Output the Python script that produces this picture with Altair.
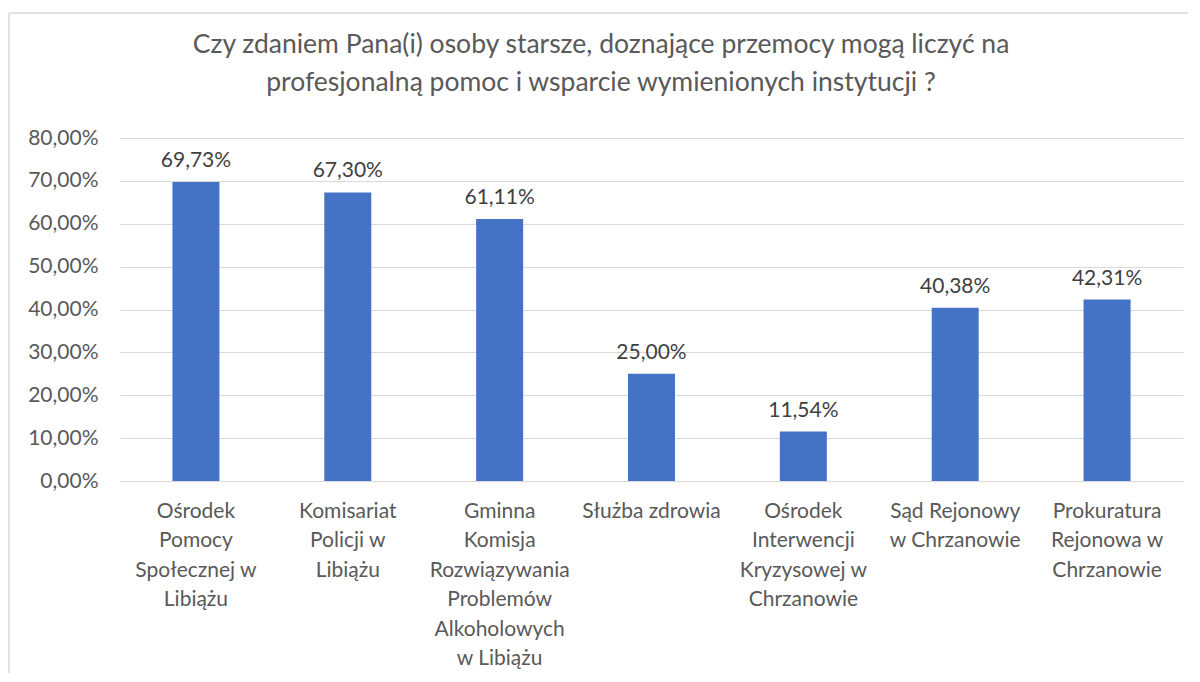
import altair as alt
import pandas as pd

category_lines = [
    ["Ośrodek", "Pomocy", "Społecznej w", "Libiążu"],
    ["Komisariat", "Policji w", "Libiążu"],
    ["Gminna", "Komisja", "Rozwiązywania", "Problemów", "Alkoholowych", "w Libiążu"],
    ["Służba zdrowia"],
    ["Ośrodek", "Interwencji", "Kryzysowej w", "Chrzanowie"],
    ["Sąd Rejonowy", "w Chrzanowie"],
    ["Prokuratura", "Rejonowa w", "Chrzanowie"],
]
values = [69.73, 67.30, 61.11, 25.00, 11.54, 40.38, 42.31]
y_ticks = [0, 10, 20, 30, 40, 50, 60, 70, 80]
title_lines = [
    "Czy zdaniem Pana(i) osoby starsze, doznające przemocy mogą liczyć na",
    "profesjonalną pomoc i wsparcie wymienionych instytucji ?",
]

cats = ["|".join(l) for l in category_lines]
df = pd.DataFrame({
    "cat": cats,
    "val": values,
    "lab": [f"{v:.2f}".replace(".", ",") + "%" for v in values],
})

FONT = "Lato"
GRAY = "#595959"
FS = 21

base = alt.Chart(df)

x = alt.X("cat:N", sort=cats, title=None,
          axis=alt.Axis(labelExpr="split(datum.label, '|')", labelAngle=0,
                        labelFont=FONT, labelFontSize=FS, labelColor=GRAY,
                        labelLineHeight=29.5, labelPadding=19, ticks=False,
                        domain=True, domainColor="#d9d9d9", labelBaseline="top",
                        labelLimit=220))
y = alt.Y("val:Q", title=None,
          scale=alt.Scale(domain=[0, 80], nice=False),
          axis=alt.Axis(values=y_ticks,
                        labelExpr="replace(format(datum.value, '.2f'), '.', ',') + '%'",
                        labelFont=FONT, labelFontSize=FS, labelColor=GRAY,
                        labelPadding=22, ticks=False, domain=False,
                        grid=True, gridColor="#d9d9d9", gridWidth=1))

bars = base.mark_bar(size=47, color="#4472C4").encode(x=x, y=y)
labels = base.mark_text(font=FONT, fontSize=FS, color="#404040",
                        baseline="bottom", dy=-11).encode(
    x=alt.X("cat:N", sort=cats), y="val:Q", text="lab:N")

one = pd.DataFrame({"a": [0]})
frame_top = alt.Chart(one).mark_rule(color="#d9d9d9", strokeWidth=1.5).encode(
    x=alt.value(-111), x2=alt.value(1200), y=alt.value(-125))
frame_left = alt.Chart(one).mark_rule(color="#d9d9d9", strokeWidth=1.5).encode(
    x=alt.value(-111), y=alt.value(-125), y2=alt.value(700))

title1 = alt.Chart(one).mark_text(font=FONT, fontSize=26.5, color=GRAY, baseline="middle").encode(
    x=alt.value(481), y=alt.value(-93), text=alt.value(title_lines[0]))
title2 = alt.Chart(one).mark_text(font=FONT, fontSize=26.5, color=GRAY, baseline="middle").encode(
    x=alt.value(481), y=alt.value(-55), text=alt.value(title_lines[1]))

chart = alt.layer(frame_top, frame_left, title1, title2, bars, labels).properties(
    width=1063, height=343,
    padding={"left": 112, "top": 130, "right": 5, "bottom": 192},
    autosize=alt.AutoSizeParams(type="none"),
    background="white",
).configure_view(stroke=None)

chart.save("out.html", embed_options={"renderer": "svg", "actions": False})
